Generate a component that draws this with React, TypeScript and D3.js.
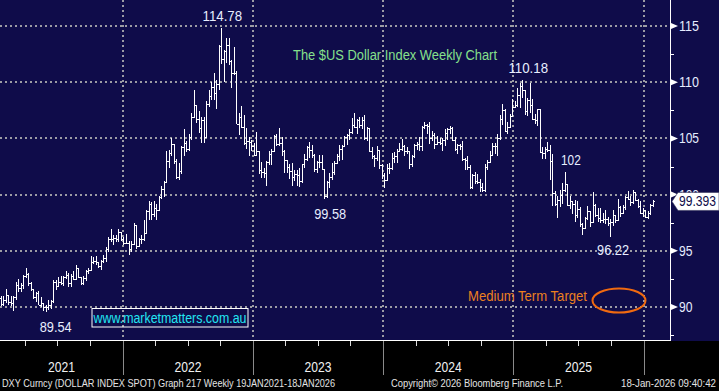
import React from "react";
import * as d3 from "d3";

// Weekly DXY bars, 22 Jan 2021 … 16 Jan 2026 (Friday week-ends)
const firstOpen = 90.77;
const closes: number[] = [
  // 2021
  90.23, 90.58, 91.04, 90.48, 90.36, 90.88, 91.98, 91.67, 91.92, 92.77, 92.96, 92.15, 91.56, 90.86, 91.28, 90.22, 90.32, 89.99, 90.03, 90.14, 90.55, 92.23, 91.85, 92.23, 92.12, 92.68, 92.89, 92.17, 92.8, 92.51, 93.5, 92.7, 92.13, 92.58, 93.2, 93.3, 94.04, 94.09, 93.96, 93.64, 94.12, 94.32, 95.13, 96.03, 96.09, 96.15, 96.08, 96.63, 96.02, 95.67,
  // 2022
  95.72, 95.17, 95.64, 97.27, 95.43, 96.04, 96.08, 96.6, 98.51, 99.13, 98.23, 98.8, 98.6, 99.8, 100.5, 101.1, 103.0, 103.7, 104.5, 103.0, 101.6, 102.1, 104.2, 104.6, 104.1, 105.1, 106.9, 108.0, 106.7, 105.9, 106.6, 105.1, 108.1, 108.8, 109.6, 109.0, 109.8, 113.2, 112.1, 112.8, 113.3, 111.9, 110.8, 110.8, 106.3, 106.9, 106.0, 104.6, 104.8, 104.7, 104.3, 103.5,
  // 2023
  103.9, 102.2, 102.0, 101.9, 102.9, 103.6, 103.9, 105.2, 104.5, 104.6, 103.9, 103.1, 102.5, 102.1, 101.6, 101.8, 101.7, 101.2, 102.7, 103.2, 104.2, 104.0, 103.5, 102.3, 102.9, 102.9, 102.3, 99.9, 101.1, 101.6, 102.0, 102.8, 103.4, 104.1, 104.3, 105.1, 105.3, 105.6, 106.2, 106.0, 106.6, 106.2, 106.6, 105.0, 105.9, 103.9, 103.4, 103.3, 104.0, 102.6, 101.7, 101.3,
  // 2024
  102.4, 102.4, 103.3, 103.4, 103.9, 104.1, 104.3, 103.9, 103.9, 102.7, 103.4, 104.4, 104.5, 104.3, 106.0, 106.2, 106.1, 105.0, 105.3, 104.5, 104.7, 104.6, 104.9, 105.5, 105.8, 105.9, 104.9, 104.1, 104.4, 104.3, 103.2, 103.1, 102.5, 100.7, 101.7, 101.2, 101.1, 100.7, 100.4, 102.5, 102.9, 103.5, 104.3, 104.3, 105.0, 106.7, 107.5, 105.7, 106.0, 107.0, 107.8, 108.0,
  // 2025
  108.9, 109.7, 109.3, 107.4, 108.4, 108.0, 106.7, 106.6, 107.6, 103.8, 103.7, 104.1, 104.0, 103.0, 100.1, 99.2, 99.5, 100.0, 100.4, 100.9, 99.1, 99.4, 99.2, 98.2, 98.7, 97.4, 97.0, 97.9, 98.5, 97.6, 99.1, 98.2, 97.9, 97.7, 97.8, 97.8, 97.5, 97.6, 98.2, 97.7, 98.9, 98.4, 98.9, 99.8, 99.6, 99.3, 100.2, 99.5, 99.0, 98.4, 98.6, 98.0,
  // 2026
  98.4, 99.1, 99.393,
];
const highs: number[] = [
  90.95, 90.95, 91.6, 91.1, 91.0, 90.95, 92.2, 92.5, 92.1, 92.85, 93.44, 93.0, 92.2, 91.6, 91.3, 91.4, 90.9, 90.4, 90.2, 90.6, 90.6, 92.4, 92.4, 92.7, 92.8, 92.8, 93.2, 93.0, 92.9, 93.2, 93.73, 93.2, 92.7, 92.8, 93.3, 93.5, 94.5, 94.45, 94.56, 94.0, 94.2, 94.6, 95.3, 96.2, 96.9, 96.4, 96.4, 96.9, 96.7, 96.2,
  96.5, 95.9, 95.9, 97.44, 97.3, 96.1, 96.4, 97.7, 98.6, 99.4, 99.3, 99.4, 99.2, 99.9, 100.8, 101.2, 103.9, 104.0, 105.0, 104.1, 103.2, 102.8, 104.3, 105.8, 104.8, 105.4, 107.3, 109.29, 107.9, 107.4, 106.9, 106.9, 108.3, 109.3, 110.0, 110.8, 110.2, 113.3, 114.78, 112.9, 113.9, 113.9, 112.0, 113.1, 111.0, 107.3, 107.9, 107.1, 105.9, 105.1, 104.9, 104.6,
  105.6, 103.9, 102.9, 102.4, 103.0, 103.9, 104.1, 105.3, 105.4, 105.9, 105.1, 104.0, 103.1, 102.7, 102.8, 102.2, 102.2, 102.4, 102.7, 103.6, 104.3, 104.7, 104.4, 103.6, 103.0, 103.5, 103.5, 102.3, 101.2, 101.9, 102.8, 103.0, 103.6, 104.4, 104.4, 105.2, 105.4, 105.8, 106.8, 107.3, 106.7, 106.9, 106.9, 107.1, 106.0, 105.9, 104.2, 103.5, 104.3, 104.0, 102.7, 101.9,
  102.7, 102.8, 103.7, 103.8, 104.1, 104.6, 104.97, 104.4, 104.2, 103.9, 103.5, 104.5, 104.7, 105.1, 106.1, 106.5, 106.3, 106.5, 105.7, 105.5, 105.2, 105.0, 105.0, 105.8, 105.9, 106.1, 106.0, 105.1, 104.5, 104.5, 104.8, 103.3, 103.4, 102.6, 101.8, 102.0, 101.8, 101.4, 101.0, 102.7, 103.1, 103.9, 104.6, 104.6, 105.4, 107.1, 108.07, 107.6, 106.5, 107.2, 108.5, 108.3,
  109.5, 109.97, 110.18, 109.3, 108.6, 109.9, 108.5, 107.2, 107.6, 107.4, 104.2, 104.2, 104.7, 104.4, 103.6, 100.3, 99.9, 100.4, 101.0, 102.0, 100.7, 99.9, 99.4, 99.5, 99.4, 98.9, 97.5, 98.0, 98.95, 98.5, 100.25, 99.2, 98.8, 98.8, 98.4, 98.6, 98.0, 97.8, 98.6, 98.2, 99.6, 99.0, 99.1, 99.9, 100.36, 99.9, 100.4, 100.2, 99.6, 99.4, 98.8, 98.4,
  98.5, 99.2, 99.5,
];
const lows: number[] = [
  90.05, 90.1, 90.4, 90.2, 90.1, 89.68, 90.6, 91.3, 91.3, 91.6, 92.6, 91.9, 91.4, 90.7, 90.42, 90.2, 89.98, 89.65, 89.54, 89.7, 89.8, 90.4, 91.5, 91.8, 92.0, 91.9, 92.5, 91.8, 91.8, 92.4, 92.5, 92.6, 91.94, 92.0, 92.3, 92.9, 93.3, 93.8, 93.7, 93.5, 93.3, 93.9, 94.0, 94.9, 95.8, 95.5, 95.8, 95.8, 95.9, 95.5,
  95.6, 94.63, 94.9, 95.5, 95.14, 95.3, 95.6, 95.9, 96.7, 97.7, 97.7, 98.0, 97.7, 98.6, 99.6, 99.8, 101.1, 102.4, 103.4, 102.7, 101.4, 101.3, 101.8, 103.4, 103.8, 103.9, 104.9, 106.8, 106.4, 105.5, 104.6, 104.6, 105.5, 107.8, 108.4, 108.4, 107.6, 109.3, 111.6, 110.05, 111.7, 111.5, 109.5, 110.6, 106.3, 105.3, 105.9, 104.4, 104.1, 103.4, 103.9, 103.4,
  103.4, 101.8, 101.5, 101.5, 100.8, 102.6, 102.6, 103.8, 104.3, 104.3, 103.4, 101.9, 101.9, 101.4, 100.8, 101.2, 100.8, 100.7, 101.0, 102.4, 103.0, 103.3, 103.3, 102.0, 101.9, 102.4, 102.2, 99.58, 99.7, 100.6, 101.3, 101.7, 102.8, 103.0, 103.1, 104.3, 104.4, 104.9, 105.4, 105.9, 105.4, 105.9, 105.8, 104.9, 104.8, 103.8, 103.2, 102.5, 103.0, 102.3, 101.4, 100.6,
  101.3, 101.8, 102.2, 102.8, 102.8, 103.9, 103.9, 103.4, 103.6, 102.3, 102.5, 103.3, 104.0, 103.9, 103.9, 105.8, 105.4, 104.5, 104.8, 104.1, 104.4, 104.4, 103.9, 104.3, 104.9, 105.4, 104.8, 103.9, 103.6, 104.0, 103.0, 102.2, 102.2, 100.5, 100.5, 100.9, 100.9, 100.2, 100.2, 100.2, 102.2, 102.9, 103.4, 103.6, 103.4, 104.9, 106.2, 105.6, 105.4, 105.9, 106.9, 107.7,
  107.8, 107.7, 108.6, 107.1, 107.0, 107.3, 106.6, 106.3, 106.1, 103.7, 103.2, 103.2, 103.8, 101.3, 99.0, 99.0, 97.9, 98.9, 99.2, 100.2, 99.0, 98.7, 98.3, 97.6, 97.9, 97.1, 96.4, 96.9, 97.7, 97.1, 97.6, 98.0, 97.6, 97.5, 97.5, 97.4, 97.2, 96.22, 97.2, 97.5, 97.7, 98.0, 98.3, 98.6, 99.5, 99.0, 99.2, 99.4, 98.8, 98.3, 98.0, 97.9,
  97.8, 98.2, 98.9,
];

const priceTicks = [90, 95, 100, 105, 110, 115];
const minorTicks = [87.5, 92.5, 97.5, 102.5, 107.5, 112.5, 117.5];
const yearLabels = ["2021", "2022", "2023", "2024", "2025"];
const lastPrice = "99.393";

const peakNotes = [
  { label: "114.78", value: 114.78, idx: 88 },
  { label: "110.18", value: 110.18, idx: 208 },
  { label: "102", value: 102.0, idx: 225 },
];
const troughNotes = [
  { label: "89.54", value: 89.54, idx: 18 },
  { label: "99.58", value: 99.58, idx: 129 },
  { label: "96.22", value: 96.22, idx: 243 },
];

const W = 719;
const H = 391;
const PLOT_R = 670;
const PLOT_B = 341;
const NAVY = "#0f0c4a";
const FONT = "'Liberation Sans', Arial, sans-serif";

export default function App() {
  const n = closes.length;
  const x = d3.scaleLinear().domain([0, n - 1]).range([0.6, 652.7]);
  const y = d3.scaleLinear().domain([90, 115]).range([307, 26]);
  const t = d3
    .scaleTime()
    .domain([new Date(2021, 0, 1), new Date(2026, 0, 1)])
    .range([-7, 643.5]);
  const years = d3.timeYear.range(new Date(2021, 0, 1), new Date(2027, 0, 1));
  const quarters = d3.timeMonth
    .every(3)!
    .range(new Date(2021, 0, 1), new Date(2026, 3, 1))
    .filter((d) => d.getMonth() !== 0);

  const bars = closes.map((c, i) => {
    const o = i === 0 ? firstOpen : closes[i - 1];
    const hi = Math.max(highs[i], o, c);
    const lo = Math.min(lows[i], o, c);
    const xr = Math.round(x(i)) + 0.5;
    return (
      <g key={i}>
        <line x1={xr} x2={xr} y1={y(hi)} y2={y(lo)} />
        <line x1={xr - 1.5} x2={xr} y1={Math.round(y(o)) + 0.5} y2={Math.round(y(o)) + 0.5} />
        <line x1={xr} x2={xr + 1.5} y1={Math.round(y(c)) + 0.5} y2={Math.round(y(c)) + 0.5} />
      </g>
    );
  });

  const tagY = y(+lastPrice);

  return (
    <svg width={W} height={H} style={{ display: "block", position: "absolute", left: 0, top: 0 }}>
      <rect x={0} y={0} width={W} height={H} fill="#000" />
      <rect x={0} y={0} width={W} height={PLOT_B} fill={NAVY} />

      {/* grid */}
      <g stroke="#9c9ca4" strokeWidth={2} strokeDasharray="2 3">
        {priceTicks.map((v) => (
          <line key={v} x1={0} x2={PLOT_R} y1={Math.round(y(v))} y2={Math.round(y(v))} />
        ))}
        {years.slice(1).map((d) => (
          <line key={+d} x1={Math.round(t(d))} x2={Math.round(t(d))} y1={0} y2={PLOT_B} />
        ))}
      </g>

      {/* bars */}
      <g stroke="#ffffff" strokeWidth={1} shapeRendering="crispEdges">
        {bars}
      </g>

      {/* right axis */}
      <line x1={PLOT_R + 0.5} x2={PLOT_R + 0.5} y1={0} y2={PLOT_B} stroke="#fff" strokeWidth={1} />
      <line x1={0} x2={PLOT_R} y1={PLOT_B - 0.5} y2={PLOT_B - 0.5} stroke="#fff" strokeWidth={1} />
      {minorTicks.map((v) => (
        <line key={v} x1={PLOT_R} x2={PLOT_R + 4} y1={Math.round(y(v)) + 0.5} y2={Math.round(y(v)) + 0.5} stroke="#fff" />
      ))}
      {priceTicks.map((v) => (
        <g key={v}>
          <path
            d={`M${PLOT_R + 1},${y(v) - 3}L${PLOT_R + 8},${y(v)}L${PLOT_R + 1},${y(v) + 3}Z`}
            fill="#fff"
          />
          <text
            x={679}
            y={y(v) + 5}
            fill="#e6ecff"
            fontFamily={FONT}
            fontSize={14}
            textLength={v >= 100 ? 20 : 13.5}
            lengthAdjust="spacingAndGlyphs"
          >
            {v}
          </text>
        </g>
      ))}
      {/* last price tag */}
      <path
        d={`M672,${tagY}L678,${tagY - 9}L719,${tagY - 9}L719,${tagY + 9}L678,${tagY + 9}Z`}
        fill="#ffffff"
        stroke="#33335a"
        strokeWidth={0.6}
      />
      <text x={679} y={tagY + 5} fill={NAVY} fontFamily={FONT} fontSize={14} textLength={37} lengthAdjust="spacingAndGlyphs">
        {lastPrice}
      </text>

      {/* bottom axis */}
      {quarters.map((d) => (
        <line key={+d} x1={Math.round(t(d)) + 0.5} x2={Math.round(t(d)) + 0.5} y1={PLOT_B} y2={PLOT_B + 5} stroke="#ddd" />
      ))}
      {years.map((d) => (
        <line key={+d} x1={Math.round(t(d)) + 0.5} x2={Math.round(t(d)) + 0.5} y1={PLOT_B} y2={375} stroke="#8a8a8a" />
      ))}
      {yearLabels.map((lab, i) => {
        const a = Math.max(0, t(years[i]));
        const b = t(years[i + 1]);
        return (
          <text
            key={lab}
            x={(a + b) / 2}
            y={372}
            textAnchor="middle"
            fill="#f0f0f0"
            fontFamily={FONT}
            fontSize={14}
            textLength={27}
            lengthAdjust="spacingAndGlyphs"
          >
            {lab}
          </text>
        );
      })}

      {/* annotations */}
      <g fill="#e8eeff" fontFamily={FONT} fontSize={14} textAnchor="middle">
        {peakNotes.map((p) => (
          <text key={p.label} x={x(p.idx) + (p.label === "102" ? 6 : p.label === "110.18" ? 6 : 1)} y={y(p.value) - 7} textLength={p.label.length * 6.6} lengthAdjust="spacingAndGlyphs">
            {p.label}
          </text>
        ))}
        {troughNotes.map((p) => (
          <text key={p.label} x={x(p.idx) + (p.label === "89.54" ? 10 : p.label === "96.22" ? 3 : 6)} y={y(p.value) + (p.label === "96.22" ? 18 : 20)} textLength={p.label.length * 6.4} lengthAdjust="spacingAndGlyphs">
            {p.label}
          </text>
        ))}
      </g>
      <text x={293} y={60} fill="#86e08c" fontFamily={FONT} fontSize={14} textLength={204} lengthAdjust="spacingAndGlyphs">
        The $US Dollar Index Weekly Chart
      </text>
      <text x={468} y={301} fill="#ec8020" fontFamily={FONT} fontSize={14} textLength={119} lengthAdjust="spacingAndGlyphs">
        Medium Term Target
      </text>
      <ellipse cx={619} cy={300.5} rx={26.5} ry={12} fill="none" stroke="#f06a10" strokeWidth={2} />
      <rect x={92} y={308.5} width={156} height={18.5} fill="none" stroke="#ffffff" strokeWidth={1} />
      <text x={93.5} y={322.5} fill="#22e6f2" fontFamily={FONT} fontSize={14} textLength={153} lengthAdjust="spacingAndGlyphs">
        www.marketmatters.com.au
      </text>

      {/* footer */}
      <g fill="#e4e4e4" fontFamily={FONT} fontSize={11}>
        <text x={2} y={387} textLength={333} lengthAdjust="spacingAndGlyphs">
          DXY Curncy (DOLLAR INDEX SPOT) Graph 217 Weekly 19JAN2021-18JAN2026
        </text>
        <text x={391} y={387} textLength={172} lengthAdjust="spacingAndGlyphs">
          Copyright© 2026 Bloomberg Finance L.P.
        </text>
        <text x={621} y={387} textLength={95} lengthAdjust="spacingAndGlyphs">
          18-Jan-2026 09:40:42
        </text>
      </g>
    </svg>
  );
}
